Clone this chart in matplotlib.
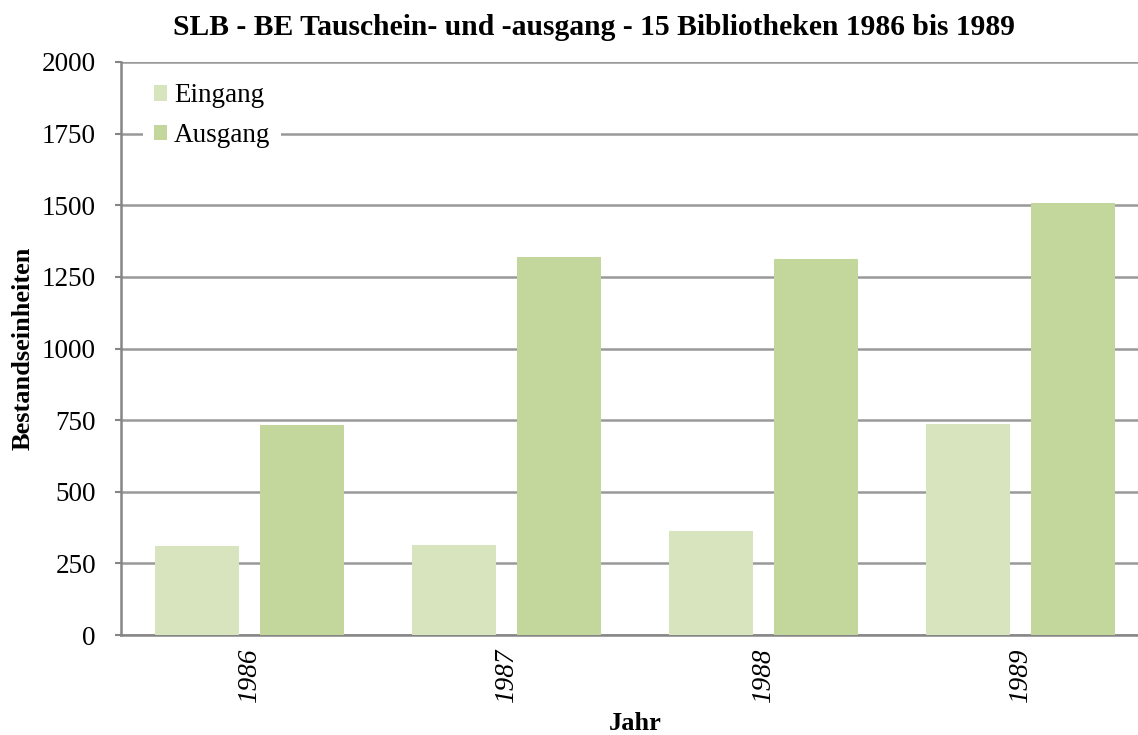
import numpy as np
import matplotlib.pyplot as plt

years = ["1986", "1987", "1988", "1989"]
eingang = [310, 314, 364, 735]
ausgang = [732, 1320, 1312, 1508]
y_ticks = [0, 250, 500, 750, 1000, 1250, 1500, 1750, 2000]

plt.rcParams["font.family"] = ["Liberation Serif", "DejaVu Serif"]

fig = plt.figure(figsize=(11.38, 7.35), dpi=100)
# plot area runs a bit past the right edge, like the original
ax = fig.add_axes([0.1063, 0.136, 0.9035, 0.7797])

x = np.arange(len(years))
w = 0.327
ax.bar(x - 0.204, eingang, width=w, color="#d7e4bd", label="Eingang", zorder=3)
ax.bar(x + 0.204, ausgang, width=w, color="#c3d69b", label="Ausgang", zorder=3)

ax.set_xlim(-0.5, 3.5)
ax.set_ylim(0, 2000)
ax.set_yticks(y_ticks)
ax.set_yticklabels([str(v) for v in y_ticks], fontsize=19.5)
ax.set_xticks(x)
ax.set_xticklabels(years, fontsize=19.5, rotation=90, style="italic")
ax.tick_params(axis="x", length=0, pad=10)
ax.tick_params(axis="y", length=4, width=1.5, color="#868686", pad=14)

ax.grid(axis="y", color="#999999", linewidth=1.8, zorder=0)
for s in ["top", "right"]:
    ax.spines[s].set_visible(False)
for s in ["left", "bottom"]:
    ax.spines[s].set_color("#868686")
    ax.spines[s].set_linewidth(1.8)

ax.set_ylabel("Bestandseinheiten", fontsize=19, fontweight="bold", labelpad=5)
ax.set_xlabel("Jahr", fontsize=19, fontweight="bold", labelpad=6)
fig.text(0.522, 0.963,
         "SLB - BE Tauschein- und -ausgang - 15 Bibliotheken 1986 bis 1989",
         fontsize=21.3, fontweight="bold", ha="center", va="center")

leg = ax.legend(loc="upper left", fontsize=19.5, frameon=True, framealpha=1,
                edgecolor="white", handlelength=0.5, handleheight=0.5,
                handletextpad=0.25, labelspacing=0.55, borderpad=0.4,
                bbox_to_anchor=(0.008, 1.005))
leg.get_frame().set_linewidth(0)

fig.savefig("out.png", dpi=100)
